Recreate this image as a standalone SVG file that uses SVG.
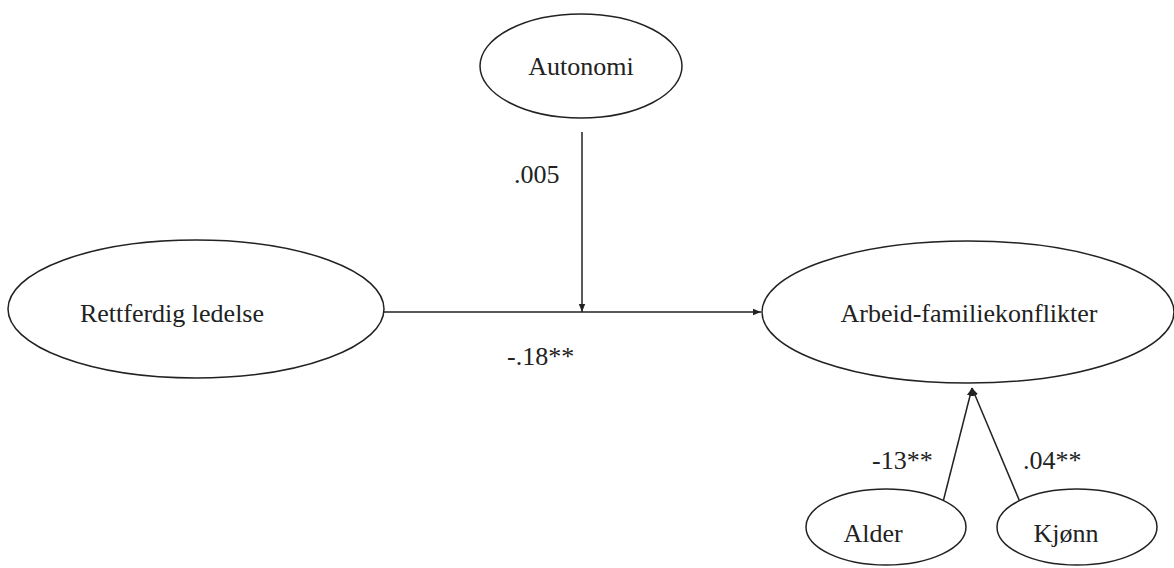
<svg xmlns="http://www.w3.org/2000/svg" width="1174" height="568" viewBox="0 0 1174 568">
<style>
.n{fill:#fff;stroke:#222;stroke-width:1.5}
.t{font-family:"Liberation Serif","Times New Roman",serif;font-size:26px;fill:#222}
.c{stroke:#222;stroke-width:1.5;fill:none}
</style>
<defs>
<marker id="ah" viewBox="0 0 10 10" refX="10" refY="5" markerWidth="8" markerHeight="8" markerUnits="userSpaceOnUse" orient="auto">
<path d="M0,1 L10,5 L0,9 Z" fill="#222"/>
</marker>
</defs>
<rect width="1174" height="568" fill="#fff"/>
<g id="connectors">
<line class="c" x1="384" y1="312" x2="761" y2="312" marker-end="url(#ah)"/>
<line class="c" x1="582" y1="132" x2="582" y2="312" marker-end="url(#ah)"/>
<line class="c" x1="943" y1="502" x2="972" y2="388" marker-end="url(#ah)"/>
<line class="c" x1="1020" y1="502" x2="972" y2="388" marker-end="url(#ah)"/>
<text class="t" x="514" y="183">.005</text>
<text class="t" x="507" y="365">-.18**</text>
<text class="t" x="872" y="469">-13**</text>
<text class="t" x="1023" y="469">.04**</text>
</g>
<g id="autonomi">
<ellipse class="n" cx="581" cy="66" rx="101" ry="52"/>
<text class="t" x="581" y="75" text-anchor="middle">Autonomi</text>
</g>
<g id="rettferdig">
<ellipse class="n" cx="196" cy="309" rx="188" ry="69"/>
<text class="t" x="172" y="322" text-anchor="middle">Rettferdig ledelse</text>
</g>
<g id="arbeid">
<ellipse class="n" cx="968" cy="312" rx="206" ry="71"/>
<text class="t" x="969" y="322" text-anchor="middle">Arbeid-familiekonflikter</text>
</g>
<g id="alder">
<ellipse class="n" cx="886" cy="527" rx="80" ry="38"/>
<text class="t" x="873" y="542" text-anchor="middle">Alder</text>
</g>
<g id="kjonn">
<ellipse class="n" cx="1077" cy="527" rx="80" ry="38"/>
<text class="t" x="1066" y="542" text-anchor="middle">Kjønn</text>
</g>
</svg>
